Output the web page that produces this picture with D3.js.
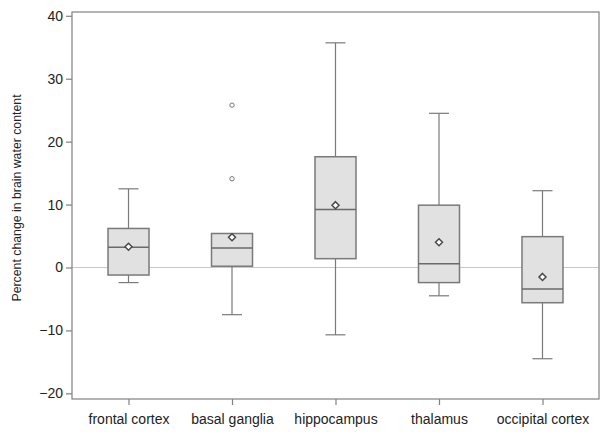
<!DOCTYPE html>
<html lang="en">
<head>
  <meta charset="UTF-8">
  <title>Brain water content box plot</title>
  <style>
    body { margin: 0; background: #fff; }
    text { font-family: "Liberation Sans", Arial, sans-serif; fill: #222; }
  </style>
</head>
<body>
  <svg id="chart"></svg>
  <script src="https://cdn.jsdelivr.net/npm/d3@7"></script>
  <script>
    var categories = ["frontal cortex", "basal ganglia", "hippocampus", "thalamus", "occipital cortex"];
    var whiskerLow = [-2.4, -7.5, -10.7, -4.5, -14.5];
    var q1 = [-1.2, 0.2, 1.4, -2.4, -5.6];
    var median = [3.2, 3.1, 9.2, 0.6, -3.4];
    var q3 = [6.2, 5.4, 17.6, 9.9, 4.9];
    var whiskerHigh = [12.5, 5.4, 35.7, 24.5, 12.2];
    var means = [3.3, 4.8, 9.9, 4.0, -1.5];
    var outliers = [[], [14.1, 25.8], [], [], []];
    var yTicks = [-20, -10, 0, 10, 20, 30, 40];

    var width = 609, height = 438;
    var margin = { top: 12, right: 10, bottom: 39, left: 72 };

    var svg = d3.select("#chart")
      .attr("width", width)
      .attr("height", height);

    var x = d3.scalePoint()
      .domain(categories)
      .range([margin.left, width - margin.right])
      .padding(0.546);

    var y = d3.scaleLinear()
      .domain([-20.9, 40.6])
      .range([height - margin.bottom, margin.top]);

    var boxW = 41, capW = 20;

    // reference line at zero
    svg.append("line")
      .attr("x1", margin.left).attr("x2", width - margin.right)
      .attr("y1", y(0)).attr("y2", y(0))
      .attr("stroke", "#c8c8c8").attr("stroke-width", 1);

    var data = categories.map(function (c, i) {
      return { cat: c, lo: whiskerLow[i], q1: q1[i], med: median[i], q3: q3[i], hi: whiskerHigh[i], mean: means[i], out: outliers[i] };
    });

    var g = svg.selectAll("g.box")
      .data(data)
      .enter()
      .append("g")
      .attr("class", "box")
      .attr("transform", function (d) { return "translate(" + x(d.cat) + ",0)"; });

    var stroke = "#7a7a7a";

    // whiskers
    g.append("line")
      .attr("x1", 0).attr("x2", 0)
      .attr("y1", function (d) { return y(d.q3); })
      .attr("y2", function (d) { return y(d.hi); })
      .attr("stroke", stroke).attr("stroke-width", 1.2);
    g.append("line")
      .attr("x1", 0).attr("x2", 0)
      .attr("y1", function (d) { return y(d.q1); })
      .attr("y2", function (d) { return y(d.lo); })
      .attr("stroke", stroke).attr("stroke-width", 1.2);
    // caps
    g.filter(function (d) { return d.hi > d.q3; })
      .append("line")
      .attr("x1", -capW / 2).attr("x2", capW / 2)
      .attr("y1", function (d) { return y(d.hi); })
      .attr("y2", function (d) { return y(d.hi); })
      .attr("stroke", stroke).attr("stroke-width", 1.2);
    g.append("line")
      .attr("x1", -capW / 2).attr("x2", capW / 2)
      .attr("y1", function (d) { return y(d.lo); })
      .attr("y2", function (d) { return y(d.lo); })
      .attr("stroke", stroke).attr("stroke-width", 1.2);

    // boxes
    g.append("rect")
      .attr("x", -boxW / 2)
      .attr("width", boxW)
      .attr("y", function (d) { return y(d.q3); })
      .attr("height", function (d) { return y(d.q1) - y(d.q3); })
      .attr("fill", "#e1e1e1")
      .attr("stroke", stroke).attr("stroke-width", 1.5);

    // median
    g.append("line")
      .attr("x1", -boxW / 2).attr("x2", boxW / 2)
      .attr("y1", function (d) { return y(d.med); })
      .attr("y2", function (d) { return y(d.med); })
      .attr("stroke", "#6a6a6a").attr("stroke-width", 1.5);

    // mean diamond
    g.append("path")
      .attr("d", "M0,-3.5L3.5,0L0,3.5L-3.5,0Z")
      .attr("transform", function (d) { return "translate(0," + y(d.mean) + ")"; })
      .attr("fill", "#fff")
      .attr("stroke", "#4a4a4a").attr("stroke-width", 1.5);

    // outliers
    g.selectAll("circle")
      .data(function (d) { return d.out; })
      .enter()
      .append("circle")
      .attr("cx", 0)
      .attr("cy", function (d) { return y(d); })
      .attr("r", 2.2)
      .attr("fill", "#fff")
      .attr("stroke", "#777").attr("stroke-width", 1);

    // frame
    svg.append("rect")
      .attr("x", margin.left).attr("y", margin.top)
      .attr("width", width - margin.left - margin.right)
      .attr("height", height - margin.top - margin.bottom)
      .attr("fill", "none")
      .attr("stroke", "#808080").attr("stroke-width", 1.2);

    // axes
    var yAxis = svg.append("g")
      .attr("transform", "translate(" + margin.left + ",0)")
      .call(d3.axisLeft(y).tickValues(yTicks).tickSize(6).tickPadding(3));
    var xAxis = svg.append("g")
      .attr("transform", "translate(0," + (height - margin.bottom) + ")")
      .call(d3.axisBottom(x).tickSize(6).tickPadding(9));

    [yAxis, xAxis].forEach(function (a) {
      a.select(".domain").remove();
      a.selectAll(".tick line").attr("stroke", "#808080").attr("stroke-width", 1.2);
      a.selectAll(".tick text").style("font-size", "14px").attr("fill", "#222");
    });

    svg.append("text")
      .attr("transform", "translate(21,198) rotate(-90)")
      .attr("text-anchor", "middle")
      .style("font-size", "12.3px")
      .text("Percent change in brain water content");
  </script>
</body>
</html>
